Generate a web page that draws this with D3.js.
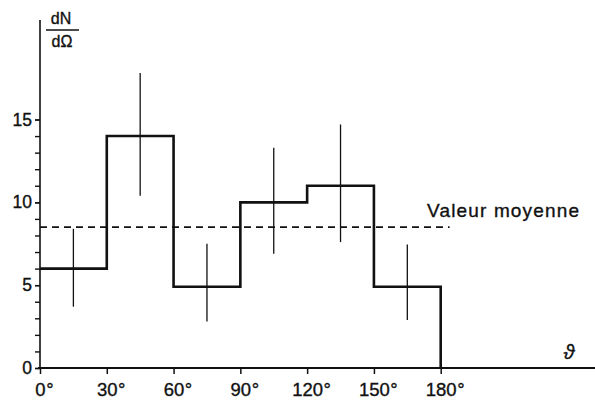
<!DOCTYPE html>
<html>
<head>
<meta charset="utf-8">
<script src="https://cdn.jsdelivr.net/npm/d3@7"></script>
<style>
  html, body { margin: 0; padding: 0; background: #fff; }
  svg { display: block; }
  text { font-family: "Liberation Sans", Arial, sans-serif; fill: #111; stroke: #111; stroke-width: 0.35px; }
</style>
</head>
<body>
<svg id="chart" width="595" height="403"></svg>
<script>
"use strict";

// bins of 30 degrees
var binStarts = [0, 30, 60, 90, 120, 150];
var binWidth = 30;
var counts = [6, 14, 4.9, 10, 11, 4.9];
var errHigh = [8.4, 17.8, 7.5, 13.3, 14.7, 7.45];
var errLow = [3.7, 10.4, 2.8, 6.9, 7.6, 2.9];
var meanValue = 8.5;
var meanLabel = "Valeur moyenne";
var xTicks = [0, 30, 60, 90, 120, 150, 180];
var yMajor = [0, 5, 10, 15];
var yMinor = d3.range(0, 16);

var W = 595, H = 403;
var svg = d3.select('#chart');

var x = d3.scaleLinear().domain([0, 180]).range([40, 440.7]);
var y = d3.scaleLinear().domain([0, 15]).range([368, 119.5]);

var ink = '#111';

// y axis: minor ticks, then major ticks with labels
var gy = svg.append('g').attr('transform', 'translate(' + x(0) + ',0)');
gy.call(d3.axisLeft(y).tickValues(yMinor).tickSize(5).tickFormat('').tickSizeOuter(0));
gy.select('.domain').remove();
gy.selectAll('.tick line').attr('stroke', ink).attr('stroke-width', 1.4);

var gyl = svg.append('g').attr('transform', 'translate(' + x(0) + ',0)');
gyl.call(d3.axisLeft(y).tickValues(yMajor).tickSize(5).tickPadding(3).tickFormat(d3.format('d')));
gyl.select('.domain').remove();
gyl.selectAll('.tick line').attr('stroke', ink).attr('stroke-width', 1.4);
gyl.selectAll('.tick text').attr('font-size', 17.5).attr('fill', ink)
    .attr('font-family', '"Liberation Sans", Arial, sans-serif');

svg.append('line')
    .attr('x1', x(0)).attr('x2', x(0))
    .attr('y1', 20).attr('y2', y(0) + 1)
    .attr('stroke', ink).attr('stroke-width', 1.6);

// x axis, the line runs out to the right edge
var gx = svg.append('g').attr('transform', 'translate(0,' + y(0) + ')');
gx.call(d3.axisBottom(x).tickValues(xTicks).tickSize(6).tickPadding(9).tickFormat(d3.format('d')));
gx.select('.domain').remove();
gx.selectAll('.tick line').attr('stroke', ink).attr('stroke-width', 1.5);
gx.selectAll('.tick text')
    .attr('font-size', 18.5).attr('fill', ink)
    .attr('font-family', '"Liberation Sans", Arial, sans-serif');
// degree sign after the number, number stays centred on the tick
gx.selectAll('.tick').each(function () {
    var t = d3.select(this).select('text'),
        w = t.node().getComputedTextLength();
    d3.select(this).append('text')
        .attr('x', w / 2 + 0.5)
        .attr('y', t.attr('y'))
        .attr('dy', t.attr('dy'))
        .attr('text-anchor', 'start')
        .attr('font-size', 18.5)
        .attr('fill', ink)
        .text('°');
});

svg.append('line')
    .attr('x1', x(0) - 2).attr('x2', W)
    .attr('y1', y(0)).attr('y2', y(0))
    .attr('stroke', ink).attr('stroke-width', 1.8);

// mean value, dashed
svg.append('line')
    .attr('x1', x(0)).attr('x2', x(184))
    .attr('y1', y(meanValue)).attr('y2', y(meanValue))
    .attr('stroke', ink).attr('stroke-width', 1.8)
    .attr('stroke-dasharray', '7,5');

svg.append('text')
    .attr('x', 427).attr('y', 216.5)
    .attr('font-size', 19)
    .attr('textLength', 152)
    .attr('lengthAdjust', 'spacing')
    .text(meanLabel);

// error bars
svg.append('g').selectAll('line')
    .data(binStarts)
    .enter().append('line')
    .attr('x1', function (d) { return x(d + binWidth / 2); })
    .attr('x2', function (d) { return x(d + binWidth / 2); })
    .attr('y1', function (d, i) { return y(errHigh[i]); })
    .attr('y2', function (d, i) { return y(errLow[i]); })
    .attr('stroke', ink).attr('stroke-width', 1.3);

// histogram outline
var pts = [];
binStarts.forEach(function (d, i) {
    pts.push([x(d), y(counts[i])]);
    pts.push([x(d + binWidth), y(counts[i])]);
});
pts.push([x(180), y(0)]);
svg.append('path')
    .attr('d', d3.line().curve(d3.curveLinear)(pts))
    .attr('fill', 'none')
    .attr('stroke', ink)
    .attr('stroke-width', 2.6)
    .attr('stroke-linejoin', 'miter');

// dN / dOmega
svg.append('text').attr('x', 61).attr('y', 24)
    .attr('text-anchor', 'middle').attr('font-size', 16).text('dN');
svg.append('line')
    .attr('x1', 46).attr('x2', 79).attr('y1', 30).attr('y2', 30)
    .attr('stroke', ink).attr('stroke-width', 1.4);
svg.append('text').attr('x', 62).attr('y', 47)
    .attr('text-anchor', 'middle').attr('font-size', 16).text('dΩ');

// theta
svg.append('text').attr('x', 569).attr('y', 359)
    .attr('text-anchor', 'middle')
    .attr('font-family', '"DejaVu Serif", serif')
    .attr('font-style', 'italic')
    .attr('font-size', 20)
    .text('ϑ');
</script>
</body>
</html>
